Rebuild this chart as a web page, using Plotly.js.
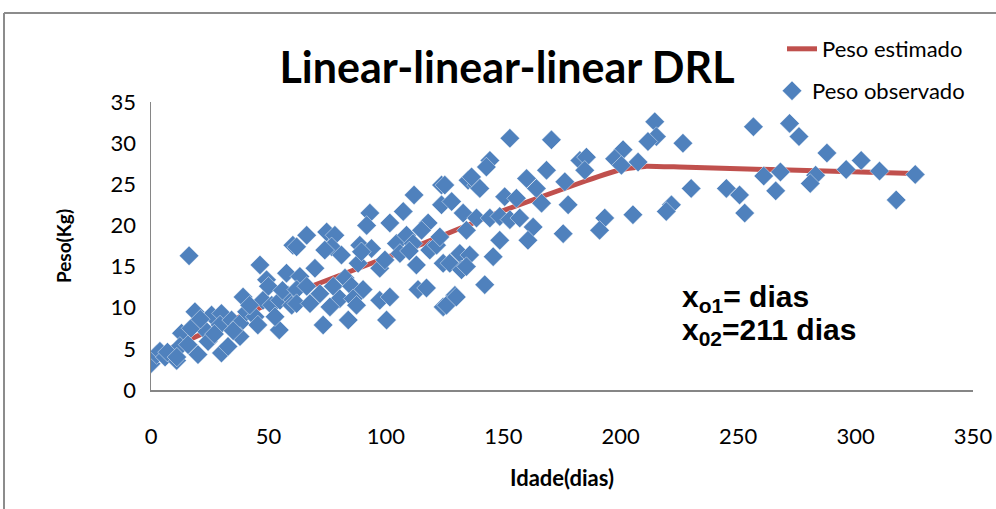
<!DOCTYPE html>
<html>
<head>
<meta charset="utf-8">
<script src="https://cdn.plot.ly/plotly-3.0.1.min.js"></script>
<style>
  html, body { margin: 0; padding: 0; background: #ffffff; }
  #chart { width: 996px; height: 509px; }
</style>
</head>
<body>
<div id="chart"></div>
<script>
// Observed weights (Peso observado): age in days and weight in kg
const obsDays = [
  16.2, 0, 2.4, 3.8, 6, 8.8, 10.9, 13, 12.3, 15.8, 20, 18.7, 23, 24.3, 25.8, 30, 30, 32.8, 29.4, 34.3,
  37.9, 39.2, 40.7, 37.9, 44.3, 45.5, 46.4, 49.2, 47.7, 51.4, 54.6, 52.8, 54.9, 57.7, 58.4, 59.9, 60.4,
  7, 11, 17, 21, 27, 35, 42, 50, 56,
  112, 123.7, 123.7, 93.2, 91.8, 107.4, 101.7, 118, 66.3, 62, 74.8, 78.3, 76.9, 81.1, 88.9, 93.9, 104.5,
  108.8, 111.6, 115.2, 118.7, 121.6, 113, 88.2, 97.4, 99.6, 69.8, 63.4, 62, 66.3, 71.9, 77.6, 82.6, 80.4,
  85.4, 90.3, 86.1, 87.5, 62, 67.7, 76.2, 84, 73.3, 100.3, 97.4, 101.7, 113.7, 117.3, 124.4, 124.4,
  74, 89.6, 106, 110,
  152.8, 170.5, 144.3, 142.8, 135, 138.6, 140, 125.1, 168.4, 159.9, 164.1, 176.2, 182.6, 150.6, 155.6,
  166.3, 177.6, 128, 132.9, 138.6, 144.3, 148.5, 152.8, 157, 134.3, 162.7, 148.5, 160.5, 175.5, 123,
  131.5, 135.7, 127.2, 145.7, 132.2, 142.1, 129.4, 125.8, 136.5, 130, 134.3,
  214.5, 256.5, 215.2, 211.6, 226.5, 185.4, 184.7, 201, 197.4, 200.3, 207.4, 230, 245, 250.6, 221.6,
  219.4, 193.2, 191, 205.2, 252.8,
  271.9, 275.9, 287.8, 302.4, 296, 310.2, 325.4, 317.3, 260.9, 268, 266, 283, 280.7
];
const obsWeight = [
  16.3, 3.2, 4.3, 4.7, 4.0, 4.3, 3.6, 6.9, 5.3, 5.5, 4.3, 9.5, 7.3, 5.9, 9.1, 9.3, 4.5, 5.3, 7.9, 8.5,
  8.1, 11.3, 9.5, 6.5, 8.9, 7.9, 15.2, 13.4, 10.9, 10.3, 7.3, 8.9, 10.9, 14.2, 11.5, 10.3, 17.6,
  4.6, 4.0, 7.5, 8.6, 6.8, 7.2, 10.3, 12.6, 12.1,
  23.7, 24.9, 22.5, 21.5, 20.0, 21.7, 20.3, 20.3, 18.8, 17.4, 19.2, 18.8, 17.4, 16.4, 17.6, 17.2, 17.8,
  18.8, 17.8, 19.4, 17.0, 17.6, 15.2, 15.4, 14.8, 15.8, 14.8, 13.8, 12.2, 12.6, 11.7, 12.6, 13.6, 11.1,
  12.6, 12.2, 11.1, 10.3, 10.5, 10.5, 10.1, 8.5, 7.9, 8.5, 10.9, 11.3, 12.2, 12.4, 10.1, 15.4,
  17.0, 16.8, 16.6, 16.9,
  30.6, 30.4, 27.9, 27.1, 25.5, 24.9, 24.5, 24.9, 26.7, 25.7, 24.5, 25.3, 27.9, 23.5, 23.3,
  22.7, 22.5, 22.9, 21.5, 20.9, 20.9, 21.1, 20.7, 20.9, 19.4, 19.8, 18.2, 18.2, 19.0, 18.6,
  16.6, 16.4, 15.4, 16.2, 14.6, 12.8, 11.5, 10.3, 25.9, 11.3, 15.0,
  32.6, 32.0, 30.8, 30.2, 30.0, 28.3, 26.7, 29.2, 28.1, 27.3, 27.7, 24.5, 24.5, 23.7, 22.5,
  21.7, 20.9, 19.4, 21.3, 21.5,
  32.4, 30.8, 28.8, 27.9, 26.8, 26.6, 26.2, 23.1, 26.0, 26.5, 24.2, 26.1, 25.1
];

// Estimated weights (Peso estimado)
const estDays = [0, 20, 60, 115, 150, 185, 200, 211, 225, 325];
const estWeight = [4.0, 6.6, 11.7, 17.7, 21.8, 25.4, 26.8, 27.2, 27.1, 26.3];

// Axis ticks
const xTicks = [0, 50, 100, 150, 200, 250, 300, 350];
const yTicks = [0, 5, 10, 15, 20, 25, 30, 35];

const FONT = "Lato, 'Open Sans', sans-serif";

// plot area in pixels: left 151, right 973, top 102, bottom 390
const L = 151, R = 973, T = 102, B = 390;
const W = 996, H = 509;
const px = (x) => (x - L) / (R - L);
const py = (y) => (B - y) / (B - T);

const traces = [
  {
    x: estDays, y: estWeight, type: 'scatter', mode: 'lines',
    name: 'Peso estimado',
    line: { color: '#C0504D', width: 5, shape: 'spline', smoothing: 0.3 },
    legend: 'legend',
    hoverinfo: 'skip'
  },
  {
    x: obsDays, y: obsWeight, type: 'scatter', mode: 'markers',
    name: 'Peso observado',
    marker: { symbol: 'diamond', size: 15, color: '#4F81BD',
              line: { color: 'rgba(255,255,255,0.55)', width: 0.8 } },
    legend: 'legend2'
  }
];

const layout = {
  width: W, height: H,
  margin: { l: L, r: W - R, t: T, b: H - B, pad: 0 },
  paper_bgcolor: '#ffffff', plot_bgcolor: '#ffffff',
  font: { family: FONT, color: '#000000', size: 22 },
  title: {
    text: '<b>Linear-linear-linear DRL</b>',
    font: { family: FONT, size: 43, color: '#000000' },
    xref: 'container', yref: 'container',
    x: 507 / W, y: 1 - 68 / H, xanchor: 'center', yanchor: 'middle'
  },
  xaxis: {
    range: [0, 350], tickvals: xTicks, ticktext: xTicks.map(String),
    showgrid: false, zeroline: false, showline: true,
    linecolor: '#868686', linewidth: 1.5, ticks: '',
    ticklabelstandoff: 26,
    tickfont: { family: FONT, size: 22, color: '#000000' },
    title: { text: '<b>Idade(dias)</b>', font: { family: FONT, size: 22, color: '#000000' }, standoff: 22 }
  },
  yaxis: {
    range: [0, 35], tickvals: yTicks, ticktext: yTicks.map(String),
    showgrid: false, zeroline: false, showline: true,
    linecolor: '#868686', linewidth: 1.5, ticks: '',
    ticklabelstandoff: 9,
    tickfont: { family: FONT, size: 22, color: '#000000' },
    title: { text: '<b>Peso(Kg)</b>', font: { family: FONT, size: 19, color: '#000000' }, standoff: 34 }
  },
  legend: {
    x: px(782), y: py(28), xanchor: 'left', yanchor: 'top',
    bgcolor: 'rgba(0,0,0,0)', borderwidth: 0,
    font: { family: FONT, size: 22, color: '#000000' }
  },
  legend2: {
    x: px(772), y: py(70), xanchor: 'left', yanchor: 'top',
    bgcolor: 'rgba(0,0,0,0)', borderwidth: 0,
    font: { family: FONT, size: 22, color: '#000000' }
  },
  annotations: [
    {
      xref: 'paper', yref: 'paper', x: px(680), y: py(298),
      xanchor: 'left', yanchor: 'middle', showarrow: false,
      text: '<b>x<sub>o1</sub>= dias</b>',
      font: { family: "'Liberation Sans', Arial, sans-serif", size: 30, color: '#000000' }
    },
    {
      xref: 'paper', yref: 'paper', x: px(680), y: py(331),
      xanchor: 'left', yanchor: 'middle', showarrow: false,
      text: '<b>x<sub>02</sub>=211 dias</b>',
      font: { family: "'Liberation Sans', Arial, sans-serif", size: 30, color: '#000000' }
    }
  ],
  shapes: [
    { type: 'line', xref: 'paper', yref: 'paper', x0: px(4), x1: px(1000), y0: py(13), y1: py(13),
      line: { color: '#8C8C8C', width: 2 } },
    { type: 'line', xref: 'paper', yref: 'paper', x0: px(4), x1: px(4), y0: py(13), y1: py(520),
      line: { color: '#8C8C8C', width: 2 } }
  ],
  showlegend: true
};

Plotly.newPlot('chart', traces, layout, { displayModeBar: false, staticPlot: true });
</script>
</body>
</html>
